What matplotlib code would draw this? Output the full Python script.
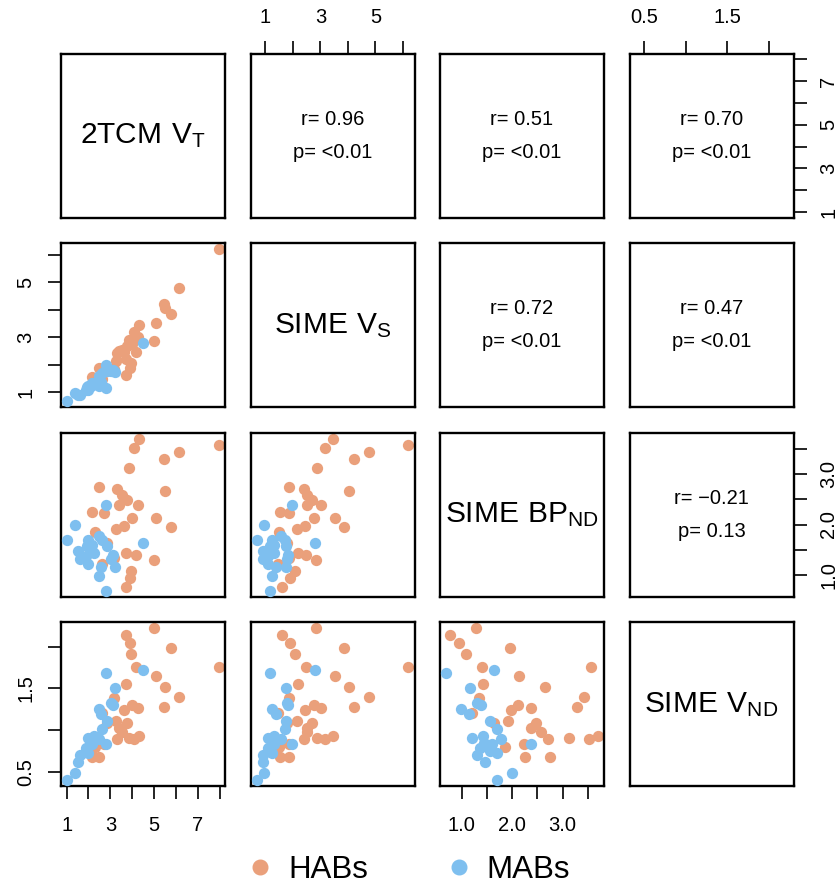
import matplotlib.pyplot as plt
from matplotlib.lines import Line2D
import numpy as np

plt.rcParams['font.family'] = ['Liberation Sans', 'DejaVu Sans']
plt.rcParams['mathtext.fontset'] = 'custom'
plt.rcParams['mathtext.rm'] = 'Liberation Sans'

# values, one entry per subject
vt_hab = [5.02, 3.72, 3.90, 5.79, 3.93, 7.97, 4.18, 5.11, 3.73, 5.52, 6.14, 3.17, 4.00, 5.46, 4.26,
          3.62, 2.64, 3.25, 3.75, 3.40, 3.55, 4.31, 3.85, 4.10, 3.30, 2.70, 2.30, 2.49, 2.18, 2.85]
vs_hab = [2.85, 1.62, 1.90, 3.86, 2.06, 6.20, 2.46, 3.52, 2.20, 4.05, 4.78, 1.85, 2.77, 4.22, 3.01,
          2.45, 1.47, 2.15, 2.69, 2.51, 2.53, 3.46, 2.89, 3.18, 2.42, 1.86, 1.49, 1.87, 1.54, 1.77]
bp_hab = [1.29, 0.76, 0.94, 1.96, 1.08, 3.57, 1.40, 2.13, 1.43, 2.66, 3.43, 1.34, 2.12, 3.29, 2.38,
          1.98, 1.21, 1.92, 2.48, 2.38, 2.58, 3.70, 3.13, 3.52, 2.71, 2.23, 1.85, 2.75, 2.25, 1.64]
vnd_hab = [2.22, 2.14, 2.04, 1.98, 1.91, 1.76, 1.76, 1.65, 1.55, 1.52, 1.40, 1.38, 1.30, 1.28, 1.27,
           1.24, 1.20, 1.11, 1.08, 1.02, 0.98, 0.93, 0.91, 0.89, 0.89, 0.83, 0.80, 0.68, 0.68, 1.08]

vt_mab = [2.82, 4.49, 3.22, 3.02, 3.10, 2.46, 2.56, 2.84, 2.64, 1.96, 2.26, 2.47, 2.16, 2.79,
          1.87, 1.93, 1.97, 1.62, 1.53, 1.40, 1.02, 2.10]
vs_mab = [1.17, 2.81, 1.75, 1.78, 1.81, 1.23, 1.38, 1.76, 1.70, 1.09, 1.33, 1.58, 1.33, 1.98,
          1.08, 1.18, 1.24, 0.92, 0.91, 0.96, 0.68, 1.23]
bp_mab = [0.69, 1.64, 1.16, 1.31, 1.39, 0.98, 1.15, 1.57, 1.69, 1.21, 1.43, 1.77, 1.60, 2.38,
          1.37, 1.57, 1.70, 1.31, 1.47, 2.00, 1.70, 1.45]
vnd_mab = [1.68, 1.72, 1.50, 1.33, 1.30, 1.25, 1.19, 1.11, 1.01, 0.90, 0.93, 0.89, 0.83, 0.83,
           0.79, 0.75, 0.73, 0.70, 0.62, 0.48, 0.40, 0.85]

var_labels = [r'$\mathrm{2TCM\ V_{T}}$', r'$\mathrm{SIME\ V_{S}}$',
              r'$\mathrm{SIME\ BP_{ND}}$', r'$\mathrm{SIME\ V_{ND}}$']
r_text = {(0, 1): '0.96', (0, 2): '0.51', (0, 3): '0.70', (1, 2): '0.72', (1, 3): '0.47', (2, 3): '\u22120.21'}
p_text = {(0, 1): '<0.01', (0, 2): '<0.01', (0, 3): '<0.01', (1, 2): '<0.01', (1, 3): '<0.01', (2, 3): '0.13'}
group_names = ['HABs', 'MABs']

ticks = [[1, 2, 3, 4, 5, 6, 7, 8], [1, 2, 3, 4, 5, 6], [1.0, 1.5, 2.0, 2.5, 3.0, 3.5], [0.5, 1.0, 1.5, 2.0]]
tick_labels = [['1', '', '3', '', '5', '', '7', ''], ['1', '', '3', '', '5', ''],
               ['1.0', '', '2.0', '', '3.0', ''], ['0.5', '', '1.5', '']]

hab_cols = [vt_hab, vs_hab, bp_hab, vnd_hab]
mab_cols = [vt_mab, vs_mab, bp_mab, vnd_mab]
c_hab = '#EAA07B'
c_mab = '#7EBFEF'

# R style limits: 4% padding
limits = []
for k in range(4):
    allv = np.array(hab_cols[k] + mab_cols[k])
    lo, hi = allv.min(), allv.max()
    pad = 0.04 * (hi - lo)
    limits.append((lo - pad, hi + pad))

W, H = 840, 884
lefts = [61, 250.5, 440, 629.5]
tops = [53.7, 243.2, 432.7, 622.2]
size = 164

fig = plt.figure(figsize=(W / 100, H / 100), dpi=100)

for i in range(4):
    for j in range(4):
        ax = fig.add_axes([lefts[j] / W, 1 - (tops[i] + size) / H, size / W, size / H])
        ax.set_xlim(limits[j])
        ax.set_ylim(limits[i])
        for sp in ax.spines.values():
            sp.set_linewidth(1.7)
        ax.tick_params(which='both', bottom=False, top=False, left=False, right=False,
                       labelbottom=False, labeltop=False, labelleft=False, labelright=False,
                       direction='out', length=9.4, width=1.2, labelsize=14.5)
        ax.tick_params(axis='x', pad=12 if i == 3 else 9.5)
        ax.tick_params(axis='y', pad=9)
        ax.set_xticks(ticks[j])
        ax.set_xticklabels(tick_labels[j])
        ax.set_yticks(ticks[i])
        ax.set_yticklabels(tick_labels[i], rotation=90, va='center')

        if i > j:
            ax.scatter(hab_cols[j], hab_cols[i], s=66, color=c_hab, linewidths=0, zorder=2)
            ax.scatter(mab_cols[j], mab_cols[i], s=66, color=c_mab, linewidths=0, zorder=3)
        elif i == j:
            ax.text(0.5, 0.5, var_labels[i], transform=ax.transAxes, ha='center', va='center', fontsize=21.5)
        else:
            ax.text(0.5, 0.60, 'r= ' + r_text[(i, j)], transform=ax.transAxes, ha='center', va='center', fontsize=14.5)
            ax.text(0.5, 0.40, 'p= ' + p_text[(i, j)], transform=ax.transAxes, ha='center', va='center', fontsize=14.5)

        if i == 0 and j in (1, 3):
            ax.tick_params(axis='x', top=True, labeltop=True)
        if i == 3 and j in (0, 2):
            ax.tick_params(axis='x', bottom=True, labelbottom=True)
        if j == 0 and i in (1, 3):
            ax.tick_params(axis='y', left=True, labelleft=True)
        if j == 3 and i in (0, 2):
            ax.tick_params(axis='y', right=True, labelright=True)

handles = [Line2D([], [], marker='o', ls='', color=c_hab, markersize=10.5),
           Line2D([], [], marker='o', ls='', color=c_mab, markersize=10.5)]
fig.legend(handles, group_names, loc='center', bbox_to_anchor=(0.485, 1 - 870 / H), ncol=2,
           frameon=False, fontsize=22.5, handlelength=1.0, handletextpad=0.4, columnspacing=2.4)

fig.savefig('out.png', dpi=100)
